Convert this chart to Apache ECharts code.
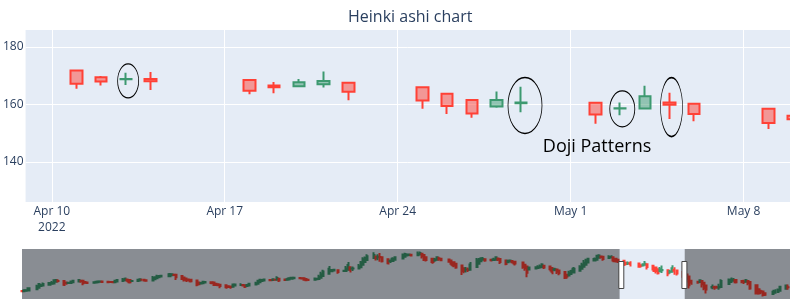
<!DOCTYPE html>
<html><head><meta charset="utf-8">
<script src="https://cdn.jsdelivr.net/npm/echarts@6/dist/echarts.min.js"></script>
<style>html,body{margin:0;padding:0;background:#fff}#c{width:790px;height:299px}</style>
</head><body><div id="c"></div>
<script>
// ---------- Heikin-Ashi data (AAPL) ----------
const dates = [
 '2021-06-29','2021-06-30','2021-07-01','2021-07-02','2021-07-06','2021-07-07','2021-07-08','2021-07-09','2021-07-12','2021-07-13','2021-07-14','2021-07-15','2021-07-16','2021-07-19','2021-07-20','2021-07-21','2021-07-22','2021-07-23','2021-07-26','2021-07-27','2021-07-28','2021-07-29','2021-07-30',
 '2021-08-02','2021-08-03','2021-08-04','2021-08-05','2021-08-06','2021-08-09','2021-08-10','2021-08-11','2021-08-12','2021-08-13','2021-08-16','2021-08-17','2021-08-18','2021-08-19','2021-08-20','2021-08-23','2021-08-24','2021-08-25','2021-08-26','2021-08-27','2021-08-30','2021-08-31',
 '2021-09-01','2021-09-02','2021-09-03','2021-09-07','2021-09-08','2021-09-09','2021-09-10','2021-09-13','2021-09-14','2021-09-15','2021-09-16','2021-09-17','2021-09-20','2021-09-21','2021-09-22','2021-09-23','2021-09-24','2021-09-27','2021-09-28','2021-09-29','2021-09-30',
 '2021-10-01','2021-10-04','2021-10-05','2021-10-06','2021-10-07','2021-10-08','2021-10-11','2021-10-12','2021-10-13','2021-10-14','2021-10-15','2021-10-18','2021-10-19','2021-10-20','2021-10-21','2021-10-22','2021-10-25','2021-10-26','2021-10-27','2021-10-28','2021-10-29',
 '2021-11-01','2021-11-02','2021-11-03','2021-11-04','2021-11-05','2021-11-08','2021-11-09','2021-11-10','2021-11-11','2021-11-12','2021-11-15','2021-11-16','2021-11-17','2021-11-18','2021-11-19','2021-11-22','2021-11-23','2021-11-24','2021-11-26','2021-11-29','2021-11-30',
 '2021-12-01','2021-12-02','2021-12-03','2021-12-06','2021-12-07','2021-12-08','2021-12-09','2021-12-10','2021-12-13','2021-12-14','2021-12-15','2021-12-16','2021-12-17','2021-12-20','2021-12-21','2021-12-22','2021-12-23','2021-12-27','2021-12-28','2021-12-29','2021-12-30','2021-12-31',
 '2022-01-03','2022-01-04','2022-01-05','2022-01-06','2022-01-07','2022-01-10','2022-01-11','2022-01-12','2022-01-13','2022-01-14','2022-01-18','2022-01-19','2022-01-20','2022-01-21','2022-01-24','2022-01-25','2022-01-26','2022-01-27','2022-01-28','2022-01-31',
 '2022-02-01','2022-02-02','2022-02-03','2022-02-04','2022-02-07','2022-02-08','2022-02-09','2022-02-10','2022-02-11','2022-02-14','2022-02-15','2022-02-16','2022-02-17','2022-02-18','2022-02-22','2022-02-23','2022-02-24','2022-02-25','2022-02-28',
 '2022-03-01','2022-03-02','2022-03-03','2022-03-04','2022-03-07','2022-03-08','2022-03-09','2022-03-10','2022-03-11','2022-03-14','2022-03-15','2022-03-16','2022-03-17','2022-03-18','2022-03-21','2022-03-22','2022-03-23','2022-03-24','2022-03-25','2022-03-28','2022-03-29','2022-03-30','2022-03-31',
 '2022-04-01','2022-04-04','2022-04-05','2022-04-06','2022-04-07','2022-04-08','2022-04-11','2022-04-12','2022-04-13','2022-04-14','2022-04-18','2022-04-19','2022-04-20','2022-04-21','2022-04-22','2022-04-25','2022-04-26','2022-04-27','2022-04-28','2022-04-29',
 '2022-05-02','2022-05-03','2022-05-04','2022-05-05','2022-05-06','2022-05-09','2022-05-10','2022-05-11','2022-05-12','2022-05-13','2022-05-16','2022-05-17','2022-05-18','2022-05-19','2022-05-20','2022-05-23','2022-05-24','2022-05-25','2022-05-26','2022-05-27','2022-05-31',
 '2022-06-01','2022-06-02','2022-06-03','2022-06-06','2022-06-07','2022-06-08','2022-06-09','2022-06-10','2022-06-13','2022-06-14','2022-06-15','2022-06-16','2022-06-17','2022-06-21','2022-06-22','2022-06-23','2022-06-24','2022-06-27','2022-06-28'
];
const haOpen = [
 135.6,135.5,136.1,136.4,137.7,139.5,141.7,142.1,143.1,144.2,144.7,146.7,147.7,147.7,145.4,145.2,145.3,146.0,147.0,147.9,147.8,146.3,145.9,
 145.6,145.8,146.2,146.7,146.9,146.6,146.4,146.4,146.2,146.9,147.9,148.6,149.5,148.9,147.5,147.6,148.3,149.1,149.1,148.6,148.3,149.7,
 150.9,152.1,152.9,153.4,154.6,155.2,155.1,153.6,151.9,150.5,149.5,149.0,148.2,145.7,144.7,144.9,145.8,146.1,145.7,144.3,143.6,
 143.2,142.4,141.4,141.0,140.8,142.1,142.8,142.9,142.6,141.7,142.3,143.3,144.2,146.1,147.6,148.3,148.8,148.7,149.2,149.2,150.3,
 149.3,149.1,149.4,150.2,150.8,151.1,151.0,150.8,149.9,149.2,149.2,149.8,150.1,151.4,153.6,156.3,159.4,160.1,160.6,159.5,159.7,
 161.2,164.0,162.5,162.6,164.0,167.0,170.3,172.7,175.0,176.8,175.9,176.3,176.1,173.6,171.3,171.5,172.9,174.5,176.6,178.2,178.8,179.0,
 178.5,179.3,180.2,178.8,175.9,174.3,172.4,172.9,174.4,174.3,173.3,172.1,170.2,168.3,166.1,162.9,161.3,161.4,161.2,164.3,
 168.4,171.2,173.1,173.5,172.9,172.7,173.0,174.5,173.9,172.2,170.2,171.0,171.5,170.8,169.7,167.1,165.0,161.3,162.5,
 163.3,163.7,164.5,165.9,164.9,163.3,161.0,161.4,160.1,158.5,155.1,154.1,156.0,157.8,160.0,162.3,164.8,167.2,169.8,172.0,173.0,175.4,176.8,
 176.5,175.2,175.9,176.1,174.1,172.9,171.8,169.5,168.8,168.9,168.5,166.6,166.3,167.0,167.6,166.0,163.7,161.6,159.3,160.4,
 160.6,158.6,158.6,160.7,160.3,158.5,156.1,155.5,152.9,147.8,146.8,146.3,147.5,145.6,142.3,139.9,140.2,140.2,140.0,140.4,144.0,
 146.5,148.0,148.7,147.5,147.1,146.8,147.7,146.4,142.6,137.7,135.3,135.1,133.0,132.1,133.5,134.5,135.9,138.4,140.3
];
const haClose = [
 135.5,136.6,136.7,138.9,141.3,143.9,142.4,144.0,145.3,145.2,148.6,148.7,147.6,143.0,144.9,145.4,146.7,147.9,148.7,147.7,144.8,145.4,145.2,
 146.0,146.6,147.1,147.0,146.3,146.1,146.3,146.0,147.5,148.9,149.3,150.3,148.3,146.1,147.7,149.0,149.8,149.1,148.1,147.9,151.1,152.1,
 153.2,153.7,153.9,155.8,155.8,154.9,152.0,150.1,149.1,148.4,148.4,147.4,143.2,143.7,145.1,146.6,146.4,145.2,142.9,142.9,142.7,
 141.6,140.3,140.6,140.5,143.3,143.4,142.9,142.3,140.7,142.8,144.3,145.0,147.9,149.0,148.9,149.3,148.6,149.6,149.1,151.3,148.3,
 148.9,149.7,150.9,151.4,151.4,150.9,150.6,149.0,148.5,149.1,150.4,150.4,152.6,155.8,158.9,162.4,160.8,161.1,158.3,159.9,162.7,
 166.8,161.1,162.6,165.4,170.0,173.5,175.0,177.2,178.6,174.9,176.6,175.9,171.1,169.0,171.7,174.2,176.1,178.7,179.8,179.4,179.1,178.0,
 180.1,181.1,177.3,172.9,172.6,170.5,173.4,175.9,174.1,172.3,170.8,168.3,166.3,163.9,159.7,159.6,161.4,160.9,167.3,172.4,
 173.9,174.9,173.9,172.2,172.4,173.3,176.0,173.3,170.5,168.1,171.7,172.0,170.1,168.5,164.5,162.9,157.5,163.7,164.0,
 164.1,165.3,167.3,163.8,161.7,158.7,161.8,158.8,156.9,151.6,153.0,157.8,159.5,162.2,164.6,167.2,169.6,172.4,174.2,173.9,177.8,178.2,176.2,
 173.8,176.5,176.3,172.0,171.6,170.7,167.2,168.0,168.9,168.1,164.8,166.0,167.7,168.2,164.4,161.4,159.5,156.9,161.6,160.7,
 156.5,158.7,162.9,159.9,156.7,153.6,154.9,150.3,142.6,145.7,145.7,148.6,143.7,138.9,137.5,140.5,140.1,139.8,140.7,147.5,148.9,
 149.5,149.3,146.2,146.7,146.5,148.5,145.1,138.8,132.8,132.8,134.8,130.9,131.1,134.9,135.5,137.3,140.8,142.2,140.1
];
const haLow = [
 134.4,135.5,135.8,136.4,137.7,139.5,140.7,142.1,143.1,143.6,144.7,146.7,145.9,141.7,143.0,144.6,145.3,146.0,147.0,145.6,142.5,144.6,144.1,
 145.3,145.2,146.2,146.2,145.6,145.5,145.3,145.5,145.8,146.9,146.5,148.6,146.2,144.5,146.8,147.6,148.3,147.8,147.5,146.8,148.3,149.7,
 150.9,152.1,152.9,153.4,154.0,154.0,148.7,148.8,146.9,146.4,147.2,145.8,141.3,142.8,143.7,144.9,145.6,143.8,141.7,142.0,141.3,
 139.1,138.3,139.4,138.4,140.8,142.1,141.8,141.0,139.2,141.5,142.3,143.2,144.2,146.1,147.6,148.3,147.6,148.7,148.5,149.2,146.4,
 147.8,148.7,149.4,150.2,150.1,150.2,150.1,147.9,147.7,147.5,149.2,149.3,150.1,151.4,153.6,156.3,159.1,159.6,156.4,158.8,159.7,
 161.2,157.8,159.7,162.6,164.0,167.0,170.3,172.7,175.0,172.2,172.3,170.8,169.7,167.5,169.1,171.5,172.9,174.5,176.6,178.1,178.1,177.3,
 177.7,179.1,174.6,171.6,171.0,168.2,170.8,172.9,171.8,171.1,169.4,165.9,164.2,162.3,154.7,157.0,157.8,158.3,161.2,164.3,
 168.4,171.2,172.1,170.7,171.0,171.4,173.0,171.6,168.0,166.6,170.2,170.1,168.5,166.2,162.2,159.8,152.0,160.9,162.4,
 162.0,163.0,164.5,162.1,159.0,155.8,159.4,156.0,154.5,150.1,150.4,154.1,156.0,157.8,160.0,162.3,164.8,167.2,169.8,172.0,173.0,175.4,174.4,
 171.9,174.4,174.4,170.1,169.9,169.2,165.5,166.6,166.8,165.0,163.6,163.9,166.1,165.9,161.5,158.5,156.7,155.4,158.9,157.3,
 153.3,156.3,158.6,155.0,154.2,151.5,152.9,145.8,138.8,143.1,144.2,146.3,139.9,136.6,132.6,137.7,137.3,138.3,137.1,140.4,144.0,
 146.5,146.9,144.5,144.9,144.1,146.8,142.5,137.1,131.4,131.5,132.2,129.0,129.8,132.1,133.5,134.5,135.9,138.4,137.3
];
const haHigh = [
 136.5,137.4,137.3,140.0,143.2,144.9,144.1,145.7,146.3,147.5,149.6,150.0,149.8,147.7,147.1,146.1,148.2,148.7,149.8,149.2,147.8,146.6,146.3,
 147.0,148.0,147.8,147.8,147.1,146.7,147.7,146.7,149.1,149.4,151.2,151.7,150.7,148.9,148.5,150.2,150.9,150.3,149.1,148.8,153.5,152.8,
 155.0,154.7,154.6,157.3,157.0,156.1,155.5,153.6,151.9,150.5,149.5,149.0,148.2,145.7,146.4,147.1,147.5,146.1,145.7,144.5,144.4,
 143.2,142.4,142.2,142.2,144.2,144.2,144.8,143.3,142.6,143.9,144.9,146.8,149.2,149.8,149.6,150.2,149.4,150.8,149.7,153.2,150.3,
 149.7,151.6,152.0,152.4,152.2,151.6,151.4,150.8,149.9,150.4,151.9,151.5,155.0,158.7,161.0,165.7,161.8,162.1,160.6,161.2,165.5,
 170.3,164.2,165.0,167.9,171.6,176.0,176.8,179.6,182.1,177.7,179.5,181.1,176.1,173.6,173.2,175.9,176.9,180.4,181.3,180.6,180.6,179.2,
 182.9,182.9,180.2,178.8,175.9,174.3,175.2,177.2,176.6,174.3,173.3,172.1,170.2,168.3,166.1,162.9,164.4,163.8,170.4,175.0,
 174.8,175.9,176.2,174.1,174.0,175.4,176.7,175.5,173.9,172.2,173.0,173.3,171.9,170.8,169.7,167.1,165.0,165.1,165.4,
 166.6,167.4,168.9,165.9,165.0,163.3,163.4,161.4,160.1,158.5,155.6,160.0,161.0,164.5,166.4,169.4,172.6,174.1,175.3,175.7,179.0,179.6,178.0,
 176.5,178.5,178.3,176.1,174.1,172.9,171.8,169.9,171.0,171.3,168.5,167.8,168.9,171.5,167.9,166.0,163.7,161.6,164.5,166.2,
 160.6,160.7,166.5,164.1,160.3,158.5,156.7,155.5,152.9,148.1,147.5,149.8,147.5,145.6,142.3,143.3,142.0,141.8,144.3,149.7,150.7,
 151.7,151.3,148.7,148.6,149.0,149.9,148.0,146.4,142.6,137.7,137.3,135.1,133.1,137.1,137.8,138.6,141.9,143.5,143.4
];

// axis ranges / ticks
const yRange = [126.1, 185.9];
const yTicks = [140, 160, 180];
const sliderRange = ['2021-06-28 22:00', '2022-06-28 22:00'];
const viewRange = ['2022-04-08 22:33', '2022-05-09 21:05'];
const tickDates = ['2022-04-10', '2022-04-17', '2022-04-24', '2022-05-01', '2022-05-08'];
const tickLabels = ['Apr 10\n2022', 'Apr 17', 'Apr 24', 'May 1', 'May 8'];

// annotations (anchored in data coordinates)
const dojiCenters = [['2022-04-13 02:10', 168.2], ['2022-04-29 03:40', 159.65], ['2022-05-03 02:10', 158.45], ['2022-05-05 02:00', 159.1]];
const noteAnchor = ['2022-05-02 01:40', 145.2];
const noteText = 'Doji Patterns';
const titleText = 'Heinki ashi chart';

// styles
const ellipseSizes = [[21, 34], [34, 56], [25, 36], [22, 59]];

function ts(s) {
  const m = s.match(/(\d+)-(\d+)-(\d+)(?:[ T](\d+):(\d+))?/);
  return new Date(+m[1], +m[2] - 1, +m[3], +(m[4] || 0), +(m[5] || 0)).getTime();
}

const ohlc = dates.map((d, i) => [ts(d), haOpen[i], haClose[i], haLow[i], haHigh[i]]);
const tickTs = tickDates.map(ts);
const candleStyle = {
  color: 'rgba(61,153,112,0.5)', color0: 'rgba(255,65,54,0.5)',
  borderColor: '#3D9970', borderColor0: '#FF4136', borderWidth: 2
};
const txt = '#2a3f5f';
const font = '"Open Sans", Verdana, Arial, sans-serif';

const markData = dojiCenters.map((c, k) => ({
  coord: [ts(c[0]), c[1]], symbol: 'circle', symbolSize: ellipseSizes[k],
  itemStyle: { color: 'rgba(0,0,0,0)', borderColor: '#000', borderWidth: 1 },
  label: { show: false }
}));
markData.push({
  coord: [ts(noteAnchor[0]), noteAnchor[1]], symbol: 'rect', symbolSize: 1,
  itemStyle: { color: 'rgba(0,0,0,0)', borderWidth: 0 },
  label: { show: true, position: 'inside', formatter: noteText, color: '#000', fontSize: 18, fontFamily: font }
});

const chart = echarts.init(document.getElementById('c'), null, { renderer: 'canvas' });
chart.setOption({
  animation: false,
  backgroundColor: '#fff',
  title: {
    text: titleText, left: 343, top: 4,
    textStyle: { color: txt, fontSize: 16, fontWeight: 'normal', fontFamily: font }
  },
  grid: [
    { left: 22, top: 30, width: 768, height: 172, show: true, backgroundColor: '#E5ECF6', borderWidth: 0 },
    { left: 22, top: 249, width: 768, height: 50, show: true, backgroundColor: '#E5ECF6', borderWidth: 0 }
  ],
  xAxis: [
    {
      type: 'value', scale: true, gridIndex: 0, min: ts(sliderRange[0]), max: ts(sliderRange[1]),
      axisLine: { show: false },
      axisTick: { show: false, customValues: tickTs },
      splitLine: { show: true, lineStyle: { color: '#fff', width: 1 } },
      axisLabel: {
        customValues: tickTs, color: txt, fontSize: 12, fontFamily: font, margin: 2, lineHeight: 16,
        formatter: v => { const k = tickTs.indexOf(v); return k >= 0 ? tickLabels[k] : ''; }
      }
    },
    { type: 'value', scale: true, gridIndex: 1, min: ts(sliderRange[0]), max: ts(sliderRange[1]), show: false }
  ],
  yAxis: [
    {
      type: 'value', gridIndex: 0, min: yRange[0], max: yRange[1],
      axisLine: { show: false },
      axisTick: { show: false, customValues: yTicks },
      splitLine: { show: true, lineStyle: { color: '#fff', width: 1 } },
      axisLabel: { customValues: yTicks, color: txt, fontSize: 12, fontFamily: font, margin: 2 }
    },
    { type: 'value', gridIndex: 1, min: yRange[0], max: yRange[1], show: false }
  ],
  dataZoom: [{
    type: 'slider', xAxisIndex: 0, filterMode: 'none',
    startValue: ts(viewRange[0]), endValue: ts(viewRange[1]),
    left: 22, width: 768, top: 249, height: 52, z: 10,
    backgroundColor: 'rgba(0,0,0,0)', borderColor: 'rgba(0,0,0,0)', fillerColor: 'rgba(0,0,0,0)',
    showDataShadow: false, showDetail: false, brushSelect: false,
    moveHandleSize: 0, moveHandleStyle: { opacity: 0 },
    handleIcon: 'path://M0,0L5,0L5,27L0,27Z', handleSize: 27,
    handleStyle: { color: '#fff', borderColor: '#444', borderWidth: 1, shadowBlur: 0, shadowColor: 'rgba(0,0,0,0)' },
    emphasis: { handleStyle: { color: '#fff', borderColor: '#444', borderWidth: 1, shadowBlur: 0 }, moveHandleStyle: { opacity: 0 } }
  }],
  series: [
    {
      type: 'candlestick', xAxisIndex: 0, yAxisIndex: 0, data: ohlc,
      encode: { x: 0, y: [1, 2, 3, 4] }, barWidth: 12, clip: true,
      itemStyle: candleStyle,
      markPoint: { silent: true, data: markData }
    },
    {
      type: 'candlestick', xAxisIndex: 1, yAxisIndex: 1, data: ohlc,
      encode: { x: 0, y: [1, 2, 3, 4] }, barWidth: 1.6, clip: true, silent: true,
      itemStyle: Object.assign({}, candleStyle, { borderWidth: 2 })
    },
    {
      type: 'custom', xAxisIndex: 1, yAxisIndex: 1, z: 5, silent: true,
      data: [[ts(sliderRange[0]), ts(viewRange[0])], [ts(viewRange[1]), ts(sliderRange[1])]],
      encode: { x: [0, 1] },
      renderItem: (params, api) => {
        const p0 = api.coord([api.value(0), yRange[1]]);
        const p1 = api.coord([api.value(1), yRange[0]]);
        return { type: 'rect', shape: { x: p0[0], y: p0[1], width: p1[0] - p0[0], height: p1[1] - p0[1] },
                 style: { fill: 'rgba(0,0,0,0.4)' } };
      }
    }
  ]
});
</script>
</body></html>
